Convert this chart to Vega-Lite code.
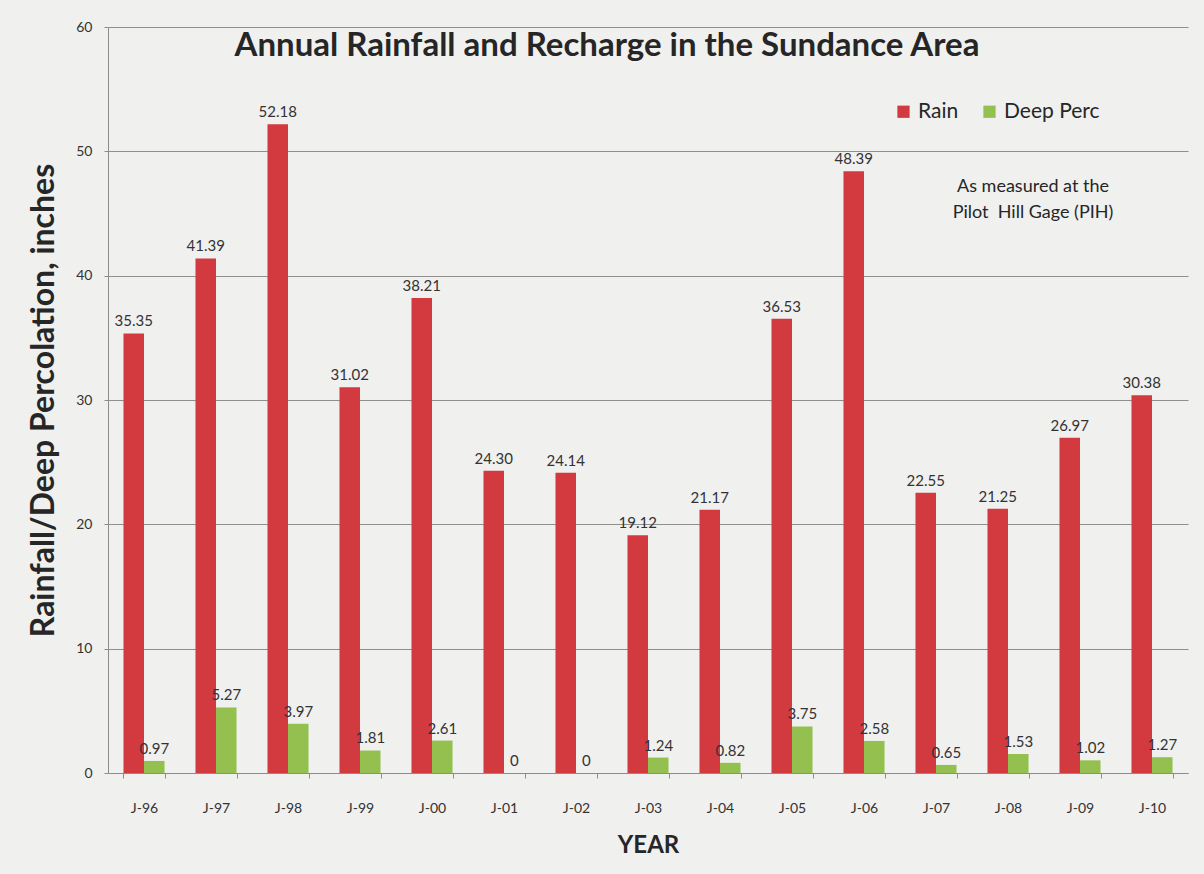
{
  "$schema": "https://vega.github.io/schema/vega-lite/v6.json",
  "width": 1080,
  "height": 746,
  "autosize": {"type": "none"},
  "padding": {"left": 108, "top": 27, "right": 16, "bottom": 101},
  "background": "#f0f0ef",
  "config": {
    "font": "Lato",
    "view": {"stroke": null},
    "axis": {"labelFont": "Lato", "titleFont": "Lato"}
  },
  "title": {
    "text": "Annual Rainfall and Recharge in the Sundance Area",
    "font": "Lato",
    "fontSize": 33,
    "fontWeight": "bold",
    "color": "#262626",
    "anchor": "middle",
    "frame": "group",
    "baseline": "alphabetic",
    "offset": -31,
    "dy": 38,
    "dx": -41
  },
  "data": {
    "values": [
      {"year": "J-96", "series": "Rain", "value": 35.35},
      {"year": "J-97", "series": "Rain", "value": 41.39},
      {"year": "J-98", "series": "Rain", "value": 52.18},
      {"year": "J-99", "series": "Rain", "value": 31.02},
      {"year": "J-00", "series": "Rain", "value": 38.21},
      {"year": "J-01", "series": "Rain", "value": 24.30},
      {"year": "J-02", "series": "Rain", "value": 24.14},
      {"year": "J-03", "series": "Rain", "value": 19.12},
      {"year": "J-04", "series": "Rain", "value": 21.17},
      {"year": "J-05", "series": "Rain", "value": 36.53},
      {"year": "J-06", "series": "Rain", "value": 48.39},
      {"year": "J-07", "series": "Rain", "value": 22.55},
      {"year": "J-08", "series": "Rain", "value": 21.25},
      {"year": "J-09", "series": "Rain", "value": 26.97},
      {"year": "J-10", "series": "Rain", "value": 30.38},
      {"year": "J-96", "series": "Deep Perc", "value": 0.97},
      {"year": "J-97", "series": "Deep Perc", "value": 5.27},
      {"year": "J-98", "series": "Deep Perc", "value": 3.97},
      {"year": "J-99", "series": "Deep Perc", "value": 1.81},
      {"year": "J-00", "series": "Deep Perc", "value": 2.61},
      {"year": "J-01", "series": "Deep Perc", "value": 0},
      {"year": "J-02", "series": "Deep Perc", "value": 0},
      {"year": "J-03", "series": "Deep Perc", "value": 1.24},
      {"year": "J-04", "series": "Deep Perc", "value": 0.82},
      {"year": "J-05", "series": "Deep Perc", "value": 3.75},
      {"year": "J-06", "series": "Deep Perc", "value": 2.58},
      {"year": "J-07", "series": "Deep Perc", "value": 0.65},
      {"year": "J-08", "series": "Deep Perc", "value": 1.53},
      {"year": "J-09", "series": "Deep Perc", "value": 1.02},
      {"year": "J-10", "series": "Deep Perc", "value": 1.27}
    ]
  },
  "transform": [
    {"calculate": "datum.value == 0 ? '0' : format(datum.value, '.2f')", "as": "label"}
  ],
  "layer": [
    {
      "mark": {"type": "bar"},
      "encoding": {
        "x": {
          "field": "year",
          "type": "nominal",
          "sort": null,
          "scale": {"paddingInner": 0.43, "paddingOuter": 0.215},
          "axis": {
            "title": "YEAR",
            "titleFontSize": 24,
            "titleFontWeight": "bold",
            "titleColor": "#262626",
            "titlePadding": 18,
            "labelAngle": 0,
            "labelFontSize": 14,
            "labelColor": "#333333",
            "labelPadding": 23,
            "domainColor": "#8c8c8c",
            "tickColor": "#8c8c8c",
            "tickBand": "extent",
            "tickSize": 5,
            "grid": false
          }
        },
        "xOffset": {
          "field": "series",
          "type": "nominal",
          "sort": ["Rain", "Deep Perc"],
          "scale": {"paddingInner": 0, "paddingOuter": 0}
        },
        "y": {
          "field": "value",
          "type": "quantitative",
          "scale": {"domain": [0, 60], "nice": false},
          "axis": {
            "title": "Rainfall/Deep Percolation, inches",
            "titleFontSize": 32,
            "titleFontWeight": "bold",
            "titleColor": "#262626",
            "titlePadding": 15,
            "values": [0, 10, 20, 30, 40, 50, 60],
            "labelFontSize": 14,
            "labelColor": "#333333",
            "labelPadding": 12,
            "domainColor": "#8c8c8c",
            "tickColor": "#8c8c8c",
            "tickSize": 4,
            "gridColor": "#8f8f8f",
            "gridWidth": 1
          }
        },
        "color": {
          "field": "series",
          "type": "nominal",
          "sort": ["Rain", "Deep Perc"],
          "scale": {"domain": ["Rain", "Deep Perc"], "range": ["#d23a40", "#93c04f"]},
          "legend": {
            "title": null,
            "orient": "none",
            "direction": "horizontal",
            "legendX": 785,
            "legendY": 74,
            "symbolType": "square",
            "symbolSize": 150,
            "symbolStrokeWidth": 0,
            "labelFontSize": 21,
            "labelColor": "#262626",
            "labelFont": "Lato",
            "columnPadding": 20
          }
        }
      }
    },
    {
      "mark": {"type": "text", "baseline": "bottom", "dy": -4, "fontSize": 15, "color": "#333333"},
      "encoding": {
        "x": {"field": "year", "type": "nominal", "sort": null},
        "xOffset": {"field": "series", "type": "nominal", "sort": ["Rain", "Deep Perc"]},
        "y": {"field": "value", "type": "quantitative"},
        "text": {"field": "label"}
      }
    },
    {
      "data": {"values": [{}]},
      "mark": {
        "type": "text",
        "align": "center",
        "baseline": "middle",
        "fontSize": 18,
        "lineHeight": 26,
        "color": "#262626",
        "dx": 25,
        "text": ["As measured at the", "Pilot\u00a0 Hill Gage (PIH)"]
      },
      "encoding": {
        "x": {"datum": "J-08"},
        "y": {"datum": 47.1}
      }
    }
  ]
}
